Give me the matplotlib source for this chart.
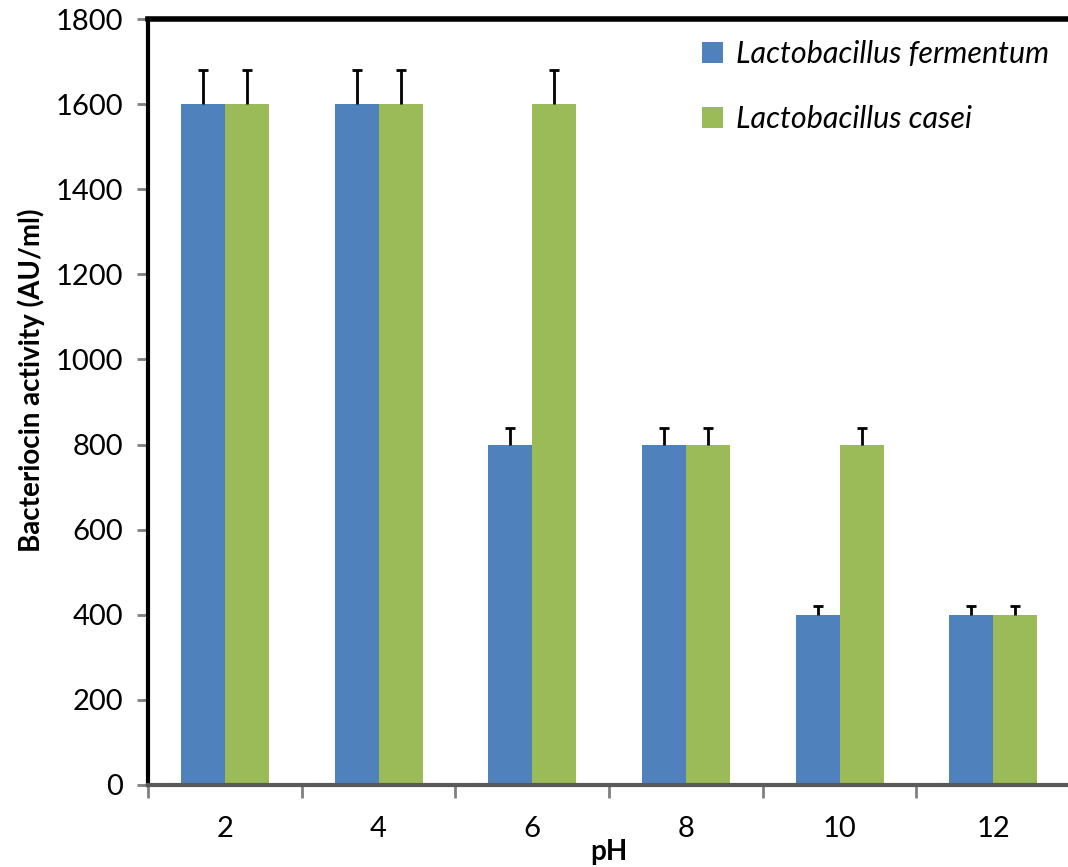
import numpy as np
import matplotlib
matplotlib.use("Agg")
import matplotlib.pyplot as plt

ph = ["2", "4", "6", "8", "10", "12"]
fermentum = [1600, 1600, 800, 800, 400, 400]
casei = [1600, 1600, 1600, 800, 800, 400]
fermentum_err = [80, 80, 40, 40, 20, 20]
casei_err = [80, 80, 80, 40, 40, 20]

plt.rcParams['font.family'] = ['Lato', 'DejaVu Sans']

fig = plt.figure(figsize=(10.68, 8.67), dpi=100)
ax = fig.add_axes([0.1386, 0.0946, 0.8634, 0.8834])

x = np.arange(len(ph))
w = 0.286
blue = '#4f81bd'
green = '#9bbb59'
ax.bar(x - w/2, fermentum, w, color=blue, label='Lactobacillus fermentum')
ax.bar(x + w/2, casei, w, color=green, label='Lactobacillus casei')

# upper error bars only
for xs, ys, es in [(x - w/2, fermentum, fermentum_err), (x + w/2, casei, casei_err)]:
    eb = ax.errorbar(xs, ys, yerr=[np.zeros(len(ph)), es],
                     fmt='none', ecolor='black', elinewidth=2, capsize=3.5, capthick=2)
    eb[1][0].set_visible(False)

ax.set_xlim(-0.5, len(ph) - 0.5)
ax.set_ylim(0, 1800)
ax.set_yticks(range(0, 1801, 200))
ax.set_xticks(x)
ax.set_xticklabels(ph)
ax.set_xticks(np.arange(-0.5, len(ph), 1), minor=True)
ax.tick_params(axis='x', which='major', length=0, pad=22, labelsize=21)
ax.tick_params(axis='x', which='minor', length=9, width=2, color='#808080', direction='out')
ax.tick_params(axis='y', length=8, width=2, color='#808080', labelsize=21, pad=10)

ax.spines['right'].set_visible(False)
ax.spines['top'].set_linewidth(4)
ax.spines['top'].set_color('black')
ax.spines['left'].set_linewidth(3)
ax.spines['left'].set_color('black')
ax.spines['bottom'].set_linewidth(3)
ax.spines['bottom'].set_color('#595959')

ax.set_ylabel('Bacteriocin activity (AU/ml)', fontsize=20, fontweight='bold')
ax.yaxis.set_label_coords(-0.112, 0.529)
ax.set_xlabel('pH', fontsize=20, fontweight='bold', labelpad=-2)

leg = ax.legend(loc='upper right', frameon=False, prop={'style': 'italic', 'size': 22},
                handlelength=0.7, handleheight=0.7, handletextpad=0.4,
                labelspacing=1.2, borderaxespad=0.3, bbox_to_anchor=(1.0, 1.0))

fig.savefig('out.png', dpi=100)
